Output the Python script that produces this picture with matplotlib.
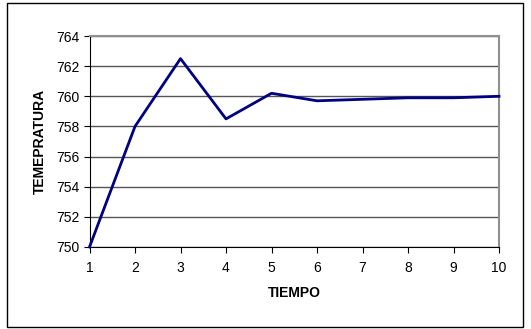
import numpy as np
import matplotlib.pyplot as plt
from matplotlib.patches import Rectangle

tiempo = [1, 2, 3, 4, 5, 6, 7, 8, 9, 10]
temperatura = [750, 758, 762.5, 758.5, 760.2, 759.7, 759.8, 759.9, 759.9, 760.0]
y_ticks = [750, 752, 754, 756, 758, 760, 762, 764]

plt.rcParams["font.family"] = ["Liberation Sans", "DejaVu Sans"]

fig = plt.figure(figsize=(5.31, 3.29), dpi=100)
ax = fig.add_axes([89.5 / 531, 1 - 247 / 329, (499 - 89.5) / 531, (247 - 36) / 329])

ax.plot(tiempo, temperatura, color="#000080", linewidth=2.0, clip_on=False, zorder=3)

ax.set_xlim(1, 10)
ax.set_ylim(750, 764)
ax.set_xticks(tiempo)
ax.set_yticks(y_ticks)
ax.tick_params(labelsize=10, length=4, width=0.8, direction="out")
ax.tick_params(axis="x", pad=6)
ax.tick_params(axis="y", pad=3)
ax.yaxis.grid(True, color="#555555", linewidth=1.0)
ax.set_axisbelow(True)

for side in ["top", "right"]:
    ax.spines[side].set_color("#909090")
    ax.spines[side].set_linewidth(1.5)
for side in ["left", "bottom"]:
    ax.spines[side].set_color("black")
    ax.spines[side].set_linewidth(0.8)

ax.set_xlabel("TIEMPO", fontsize=10, fontweight="bold", labelpad=8)
ax.set_ylabel("TEMEPRATURA", fontsize=10, fontweight="bold", labelpad=7)

fig.patches.append(Rectangle((7 / 531, 2 / 329), 516 / 531, 324 / 329,
                             transform=fig.transFigure, fill=False,
                             edgecolor="black", linewidth=1.0))

fig.savefig("out.png", dpi=100)
